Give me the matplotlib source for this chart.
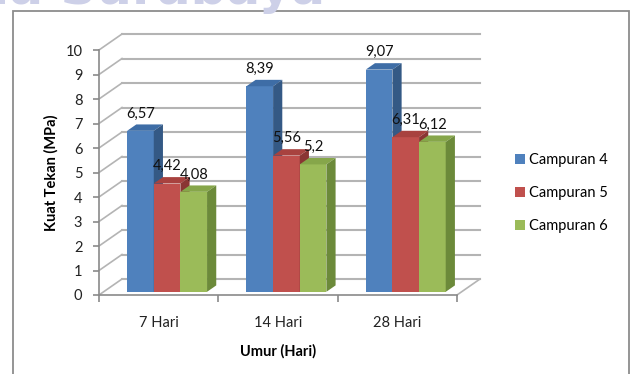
import matplotlib
matplotlib.use("Agg")
import matplotlib.pyplot as plt
from matplotlib.patches import Polygon, Rectangle, Patch

plt.rcParams['font.family'] = ['Lato', 'DejaVu Sans']

categories = ["7 Hari", "14 Hari", "28 Hari"]
series_names = ["Campuran 4", "Campuran 5", "Campuran 6"]
campuran4 = [6.57, 8.39, 9.07]
campuran5 = [4.42, 5.56, 6.31]
campuran6 = [4.08, 5.20, 6.12]
series_values = [campuran4, campuran5, campuran6]
y_ticks = list(range(0, 11))

front_colors = ["#4F81BD", "#C0504D", "#9BBB59"]
top_colors = ["#3E6DA6", "#A8423F", "#86A64A"]
side_colors = ["#345985", "#8A3533", "#6C8A3A"]

W, H = 635, 374
fig = plt.figure(figsize=(W / 100, H / 100), dpi=100)

# plot-area front plane in pixels
px_left, px_right = 99, 457
px_zero, px_top = 295, 50
ax = fig.add_axes([px_left / W, 1 - px_zero / H,
                   (px_right - px_left) / W, (px_zero - px_top) / H])
ncat = len(categories)
ax.set_xlim(0, ncat)
ax.set_ylim(0, 10)

# depth of the 3D box in data units
DX = 23 / ((px_right - px_left) / ncat)
DY = 16 / ((px_zero - px_top) / 10)

grid_col = "#b4b4b4"
for t in y_ticks:
    ax.plot([0, DX], [t, t + DY], color=grid_col, lw=1.2, clip_on=False, zorder=1)
    ax.plot([DX, ncat + DX], [t + DY, t + DY], color=grid_col, lw=1.5,
            clip_on=False, zorder=1)
# floor right edge
ax.plot([ncat, ncat + DX], [0, DY], color=grid_col, lw=1.2, clip_on=False, zorder=1)

# bars
gap_left = 0.197
bar_w = 0.2233
f0, depth = 0.2, 0.4
fx0, fy0 = f0 * DX, f0 * DY
ddx, ddy = depth * DX, depth * DY
for i in range(ncat):
    for j, vals in enumerate(series_values):
        v = vals[i]
        x0 = i + gap_left + j * bar_w + fx0
        x1 = x0 + bar_w
        base = fy0
        top = fy0 + v
        ax.add_patch(Rectangle((x0, base), bar_w, v, facecolor=front_colors[j],
                               edgecolor="none", clip_on=False, zorder=3))
        ax.add_patch(Polygon([(x0, top), (x1, top), (x1 + ddx, top + ddy),
                              (x0 + ddx, top + ddy)], closed=True,
                             facecolor=top_colors[j], edgecolor="none",
                             clip_on=False, zorder=3))
        ax.add_patch(Polygon([(x1, base), (x1, top), (x1 + ddx, top + ddy),
                              (x1 + ddx, base + ddy)], closed=True,
                             facecolor=side_colors[j], edgecolor="none",
                             clip_on=False, zorder=3))
        label = ("%g" % v).replace(".", ",")
        ax.text(x0 + bar_w / 2, top + ddy + 0.45, label, ha="center", va="center",
                fontsize=10.5, color="#111111", zorder=5, clip_on=False)

# axes lines
for s in ["top", "right"]:
    ax.spines[s].set_visible(False)
for s in ["left", "bottom"]:
    ax.spines[s].set_color("#8a8a8a")
    ax.spines[s].set_linewidth(1.2)
ax.set_yticks(y_ticks)
ax.set_yticklabels([str(t) for t in y_ticks], fontsize=10.5, color="#222222")
ax.tick_params(axis="y", direction="out", length=4, width=1.2, color="#8a8a8a", pad=8)
ax.set_xticks(range(ncat + 1))
ax.set_xticklabels([])
ax.tick_params(axis="x", which="major", direction="out", length=5, width=1.2,
               color="#8a8a8a")
ax.set_xticks([i + 0.5 for i in range(ncat)], minor=True)
ax.set_xticklabels(categories, minor=True, fontsize=10.5, color="#222222")
ax.tick_params(axis="x", which="minor", length=0, pad=15)
ax.patch.set_alpha(0)

ax.set_xlabel("Umur (Hari)", fontsize=10.5, fontweight="bold", labelpad=10)
ax.set_ylabel("Kuat Tekan (MPa)", fontsize=10.5, fontweight="bold", labelpad=5)

handles = [Patch(facecolor=c, edgecolor="none") for c in front_colors]
fig.legend(handles, series_names, loc="center left",
           bbox_to_anchor=(502 / W, 1 - 193 / H), frameon=False, fontsize=10.5,
           handlelength=0.7, handleheight=0.7, handletextpad=0.25,
           labelspacing=1.3)

# outer chart frame
fig.add_artist(Rectangle((12.5 / W, -0.05), (629 - 12.5) / W, 1.05 - 11 / H,
                         transform=fig.transFigure, fill=False,
                         edgecolor="#8c8c8c", linewidth=1.3))

# document watermark along the top edge
fig.text(-8 / W, 1 - 4 / H, "la Surabaya", fontsize=36, fontweight="bold",
         color="#cdd0e8", family="DejaVu Sans", ha="left", va="baseline")

fig.savefig("out.png", dpi=100)
